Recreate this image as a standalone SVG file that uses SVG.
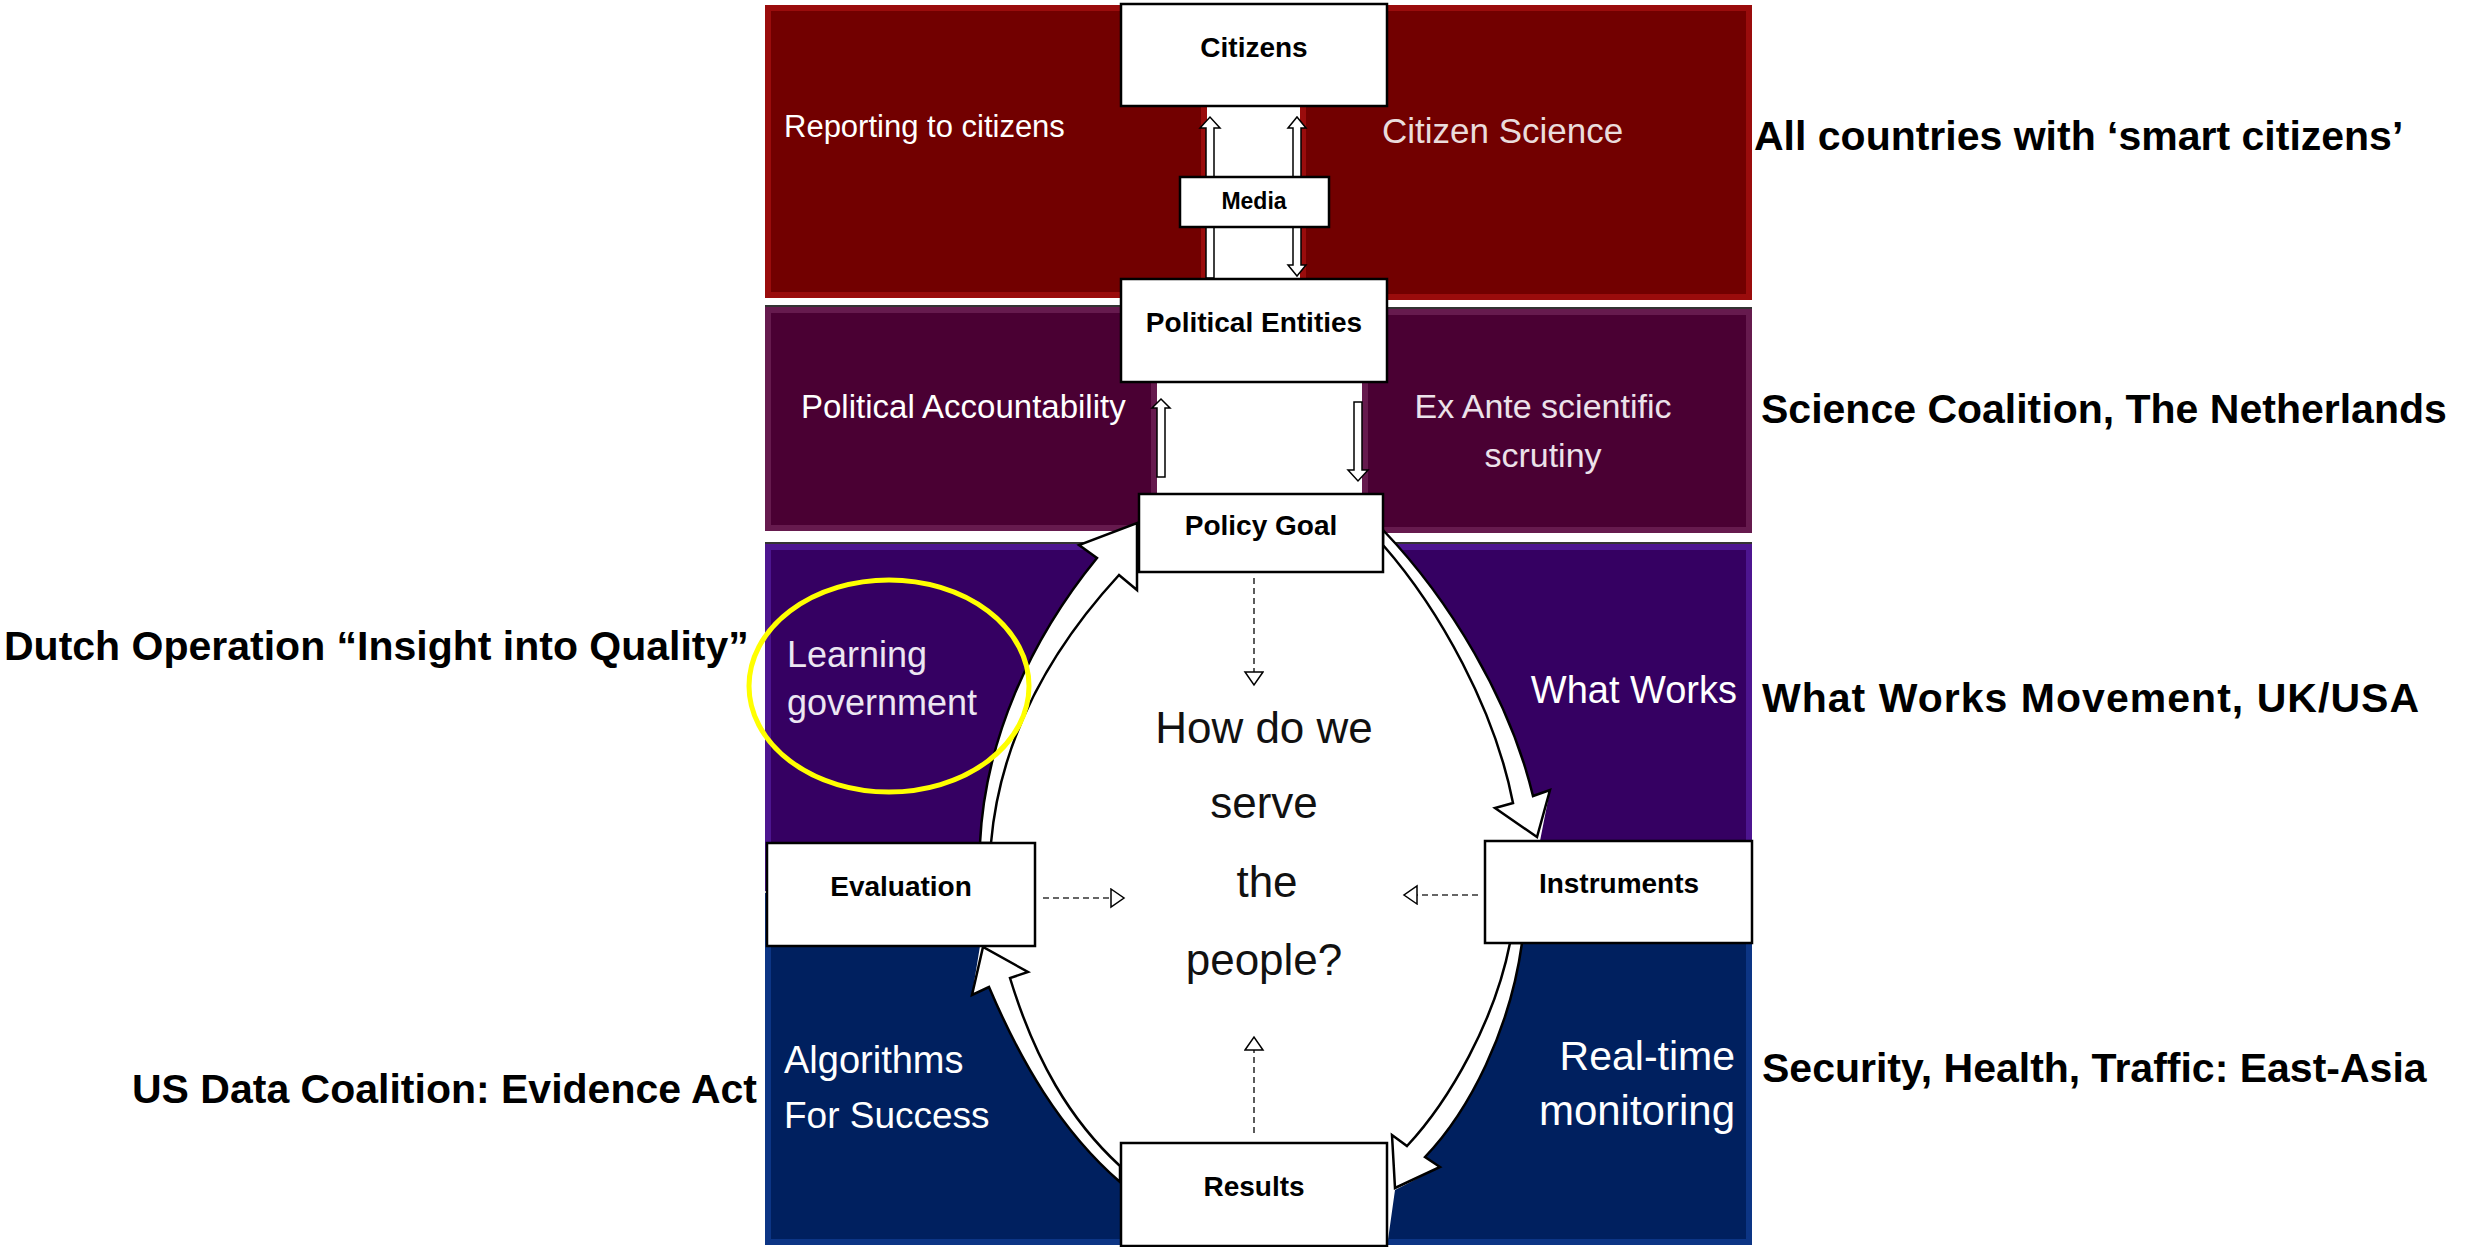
<svg xmlns="http://www.w3.org/2000/svg" width="2471" height="1247" viewBox="0 0 2471 1247">
<defs>
<style>
.red{fill:#720000;stroke:#9a0c0c;stroke-width:6}
.pol{fill:#4a0033;stroke:#661a4e;stroke-width:6}
.pur{fill:#350062;stroke:#4d1590;stroke-width:6}
.blu{fill:#00205f;stroke:#0c3585;stroke-width:6}
.bandtxt{font-family:"Liberation Sans",Arial,sans-serif;fill:#ffffff}
.box{fill:#ffffff;stroke:#000000;stroke-width:2.5}
.boxtxt{font-family:"Liberation Sans",Arial,sans-serif;font-weight:bold;font-size:28px;fill:#000;text-anchor:middle}
.side{font-family:"Liberation Sans",Arial,sans-serif;font-weight:bold;font-size:41px;fill:#000}
.blk{fill:#ffffff;stroke:#000;stroke-width:2.5;stroke-linejoin:miter}
.thin{fill:#ffffff;stroke:#000;stroke-width:1.5}
.dash{fill:none;stroke:#333;stroke-width:1.6;stroke-dasharray:6 4;marker-end:url(#tri)}
.center{font-family:"Liberation Sans",Arial,sans-serif;font-size:44px;fill:#111;text-anchor:middle}
</style>
<marker id="tri" markerUnits="userSpaceOnUse" markerWidth="16" markerHeight="22" refX="14" refY="10" orient="auto">
<path d="M1,1 L14,10 L1,19 Z" fill="#fff" stroke="#000" stroke-width="1.5"/>
</marker>
</defs>
<rect width="2471" height="1247" fill="#ffffff"/>

<g id="bands">
<g id="band-citizens">
<rect class="red" x="768" y="8" width="436" height="287"/>
<rect class="red" x="1303" y="8" width="446" height="289"/>
<text class="bandtxt" x="784" y="137" font-size="31">Reporting to citizens</text>
<text class="bandtxt" x="1382" y="143" font-size="35" style="fill:#eadcdc">Citizen Science</text>
</g>
<g id="band-political">
<line x1="765" y1="306" x2="1157" y2="306" stroke="#333" stroke-width="2"/>
<line x1="1362" y1="308" x2="1752" y2="308" stroke="#333" stroke-width="2"/>
<rect class="pol" x="768" y="310" width="386" height="218"/>
<rect class="pol" x="1365" y="312" width="384" height="218"/>
<text class="bandtxt" x="801" y="418" font-size="33">Political Accountability</text>
<text class="bandtxt" x="1543" y="418" font-size="34" text-anchor="middle" style="fill:#ece2ea">Ex Ante scientific</text>
<text class="bandtxt" x="1543" y="467" font-size="34" text-anchor="middle" style="fill:#ece2ea">scrutiny</text>
</g>
<g id="band-purple">
<line x1="765" y1="543" x2="1752" y2="543" stroke="#333" stroke-width="2"/>
<rect class="pur" x="768" y="547" width="981" height="341"/>
</g>
<g id="band-blue">
<rect class="blu" x="768" y="896" width="981" height="346"/>
</g>
</g>

<g id="center-area">
<path d="M1079,545 L1392,545 C1450,610 1510,700 1533,796 L1550,790 L1540,841 L1522,943 C1510,1030 1470,1110 1425,1157 L1440,1167 L1395,1190 L1387,1247 L1121,1247 L1120,1182 C1060,1130 1020,1060 989,987 L972,995 L980,946 L980,843 C985,740 1030,640 1097,558 Z" fill="#ffffff"/>
</g>

<g id="band-labels">
<text class="bandtxt" x="787" y="667" font-size="36" style="fill:#ece6f2">Learning</text>
<text class="bandtxt" x="787" y="715" font-size="36" style="fill:#ece6f2">government</text>
<text class="bandtxt" x="1737" y="703" font-size="38" text-anchor="end">What Works</text>
<text class="bandtxt" x="784" y="1073" font-size="38">Algorithms</text>
<text class="bandtxt" x="784" y="1128" font-size="37">For Success</text>
<text class="bandtxt" x="1735" y="1070" font-size="41" text-anchor="end">Real-time</text>
<text class="bandtxt" x="1735" y="1125" font-size="42" text-anchor="end">monitoring</text>
</g>

<g id="connectors">
<path class="thin" d="M1206,278 L1206,128 L1200,128 L1210,117 L1220,128 L1214,128 L1214,278 Z"/>
<path class="thin" d="M1293,128 L1288,128 L1297,117 L1306,128 L1301,128 L1301,265 L1306,265 L1297,276 L1288,265 L1293,265 Z"/>
<path class="thin" d="M1157,477 L1157,408 L1152,408 L1161,399 L1170,408 L1165,408 L1165,477 Z"/>
<path class="thin" d="M1354,402 L1362,402 L1362,470 L1368,470 L1358,481 L1348,470 L1354,470 Z"/>
<path class="blk" d="M980,843 C985,740 1030,640 1097,558 L1079,545 L1137,523 L1137,590 L1119,575 C1050,650 1000,740 991,843 Z"/>
<path class="blk" d="M1120,1182 C1060,1130 1020,1060 989,987 L972,995 L983,947 L1028,972 L1010,978 C1035,1060 1070,1120 1120,1166 Z"/>
<path class="blk" d="M1383,530 C1450,600 1510,700 1533,796 L1550,790 L1537,837 L1495,808 L1513,803 C1495,710 1440,610 1383,545 Z"/>
<path class="blk" d="M1522,943 C1510,1030 1470,1110 1425,1157 L1440,1167 L1395,1188 L1392,1135 L1407,1146 C1450,1100 1495,1020 1510,943 Z"/>
<line class="dash" x1="1254" y1="578" x2="1254" y2="685"/>
<line class="dash" x1="1043" y1="898" x2="1124" y2="898"/>
<line class="dash" x1="1478" y1="895" x2="1404" y2="895"/>
<line class="dash" x1="1254" y1="1133" x2="1254" y2="1037"/>
</g>

<g id="node-citizens">
<rect class="box" x="1121" y="4" width="266" height="102"/>
<text class="boxtxt" x="1254" y="57">Citizens</text>
</g>
<g id="node-media">
<rect class="box" x="1180" y="177" width="149" height="50"/>
<text class="boxtxt" x="1254" y="209" style="font-size:23px">Media</text>
</g>
<g id="node-political-entities">
<rect class="box" x="1121" y="279" width="266" height="103"/>
<text class="boxtxt" x="1254" y="332">Political Entities</text>
</g>
<g id="node-policy-goal">
<rect class="box" x="1139" y="494" width="244" height="78"/>
<text class="boxtxt" x="1261" y="535">Policy Goal</text>
</g>
<g id="node-evaluation">
<rect class="box" x="767" y="843" width="268" height="103"/>
<text class="boxtxt" x="901" y="896">Evaluation</text>
</g>
<g id="node-instruments">
<rect class="box" x="1485" y="841" width="267" height="102"/>
<text class="boxtxt" x="1619" y="893">Instruments</text>
</g>
<g id="node-results">
<rect class="box" x="1121" y="1143" width="266" height="103"/>
<text class="boxtxt" x="1254" y="1196">Results</text>
</g>

<g id="node-question">
<text class="center" x="1264" y="743">How do we</text>
<text class="center" x="1264" y="818">serve</text>
<text class="center" x="1267" y="897">the</text>
<text class="center" x="1264" y="975">people?</text>
</g>

<g id="highlight">
<ellipse cx="889" cy="686" rx="140" ry="106" fill="none" stroke="#ffff00" stroke-width="5"/>
</g>

<g id="side-labels">
<text class="side" x="1754" y="150">All countries with ‘smart citizens’</text>
<text class="side" x="1761" y="423">Science Coalition, The Netherlands</text>
<text class="side" x="1762" y="712" textLength="657">What Works Movement, UK/USA</text>
<text class="side" x="1762" y="1082">Security, Health, Traffic: East-Asia</text>
<text class="side" x="4" y="660">Dutch Operation “Insight into Quality”</text>
<text class="side" x="757" y="1103" text-anchor="end">US Data Coalition: Evidence Act</text>
</g>
</svg>
